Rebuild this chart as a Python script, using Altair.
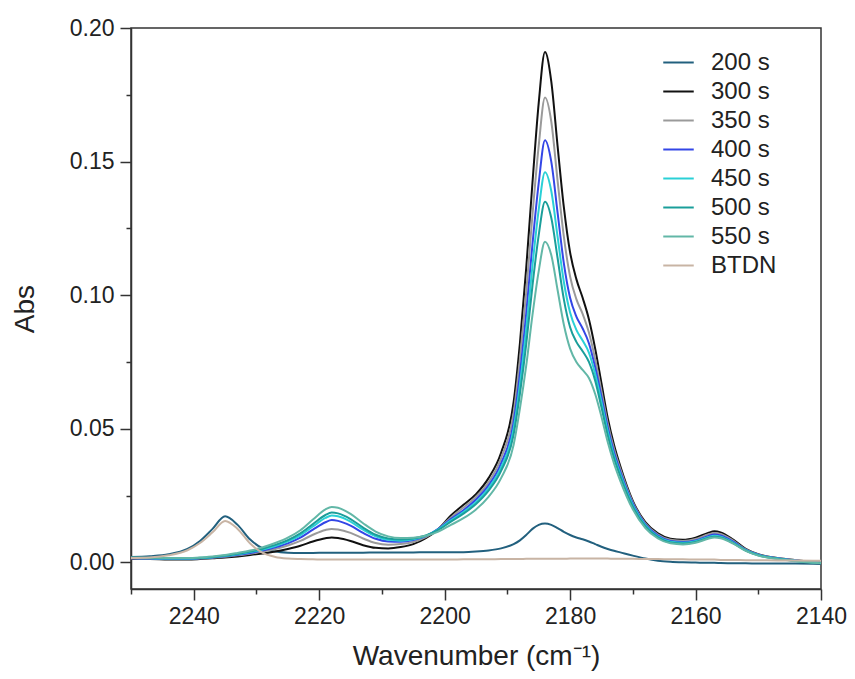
import altair as alt
import pandas as pd

wavenumber = [2250, 2247, 2244, 2241, 2239, 2237, 2235, 2233, 2231, 2229,
              2227, 2225, 2223, 2221, 2219, 2218, 2217, 2215, 2213, 2211,
              2209, 2207, 2205, 2203, 2201, 2199, 2197, 2195, 2193, 2191,
              2189, 2188, 2187, 2186, 2185, 2184, 2183, 2182, 2181, 2180,
              2179, 2178, 2177, 2176, 2175, 2174, 2173, 2172, 2170, 2168,
              2166, 2164, 2162, 2160, 2158, 2157, 2156, 2154, 2152, 2150,
              2147, 2144, 2140]

s200 = [0.0020, 0.0023, 0.0030, 0.0050, 0.0080, 0.0125, 0.0172, 0.0140, 0.0085, 0.0052,
        0.0040, 0.0036, 0.0035, 0.0035, 0.0036, 0.0036, 0.0036, 0.0036, 0.0036, 0.0037,
        0.0037, 0.0037, 0.0037, 0.0038, 0.0038, 0.0038, 0.0038, 0.0040, 0.0044, 0.0052,
        0.0068, 0.0082, 0.0102, 0.0125, 0.0140, 0.0145, 0.0140, 0.0128, 0.0114, 0.0102,
        0.0093, 0.0086, 0.0078, 0.0068, 0.0058, 0.0050, 0.0043, 0.0037, 0.0025, 0.0014,
        0.0006, 0.0002, 0.0000, -0.0001, -0.0002, -0.0002, -0.0003, -0.0004, -0.0004, -0.0005,
        -0.0005, -0.0005, -0.0006]

s300 = [0.0012, 0.0012, 0.0010, 0.0010, 0.0012, 0.0015, 0.0018, 0.0022, 0.0027, 0.0033,
        0.0040, 0.0050, 0.0062, 0.0078, 0.0090, 0.0093, 0.0091, 0.0080, 0.0064, 0.0054,
        0.0052, 0.0057, 0.0068, 0.0090, 0.0125, 0.0175, 0.0215, 0.0255, 0.0315, 0.0410,
        0.0600, 0.0820, 0.1100, 0.1420, 0.1720, 0.1910, 0.1800, 0.1560, 0.1330, 0.1160,
        0.1060, 0.0990, 0.0910, 0.0800, 0.0670, 0.0540, 0.0440, 0.0360, 0.0230, 0.0150,
        0.0108, 0.0088, 0.0084, 0.0092, 0.0110, 0.0116, 0.0112, 0.0085, 0.0050, 0.0030,
        0.0016, 0.0008, 0.0000]

s350 = [0.0014, 0.0013, 0.0012, 0.0012, 0.0014, 0.0017, 0.0021, 0.0026, 0.0032, 0.0040,
        0.0050, 0.0063, 0.0080, 0.0103, 0.0121, 0.0125, 0.0123, 0.0110, 0.0089, 0.0072,
        0.0066, 0.0068, 0.0076, 0.0094, 0.0125, 0.0168, 0.0205, 0.0245, 0.0300, 0.0390,
        0.0560, 0.0760, 0.1010, 0.1300, 0.1560, 0.1740, 0.1650, 0.1430, 0.1220, 0.1070,
        0.0985, 0.0930, 0.0860, 0.0760, 0.0640, 0.0520, 0.0425, 0.0350, 0.0225, 0.0146,
        0.0104, 0.0084, 0.0080, 0.0087, 0.0104, 0.0110, 0.0106, 0.0081, 0.0048, 0.0029,
        0.0016, 0.0008, 0.0000]

s400 = [0.0015, 0.0014, 0.0013, 0.0013, 0.0015, 0.0018, 0.0023, 0.0028, 0.0035, 0.0044,
        0.0056, 0.0071, 0.0092, 0.0122, 0.0150, 0.0158, 0.0155, 0.0137, 0.0110, 0.0088,
        0.0078, 0.0077, 0.0083, 0.0098, 0.0125, 0.0162, 0.0195, 0.0235, 0.0288, 0.0370,
        0.0525, 0.0705, 0.0930, 0.1190, 0.1420, 0.1580, 0.1500, 0.1310, 0.1120, 0.0990,
        0.0920, 0.0875, 0.0820, 0.0730, 0.0620, 0.0505, 0.0412, 0.0340, 0.0220, 0.0142,
        0.0100, 0.0080, 0.0076, 0.0082, 0.0098, 0.0104, 0.0100, 0.0077, 0.0046, 0.0028,
        0.0015, 0.0007, -0.0002]

s450 = [0.0016, 0.0015, 0.0014, 0.0014, 0.0016, 0.0019, 0.0024, 0.0030, 0.0038, 0.0048,
        0.0061, 0.0078, 0.0101, 0.0134, 0.0166, 0.0175, 0.0172, 0.0152, 0.0122, 0.0097,
        0.0084, 0.0081, 0.0086, 0.0099, 0.0123, 0.0157, 0.0188, 0.0226, 0.0278, 0.0355,
        0.0500, 0.0665, 0.0870, 0.1110, 0.1320, 0.1460, 0.1390, 0.1220, 0.1050, 0.0935,
        0.0870, 0.0830, 0.0785, 0.0705, 0.0600, 0.0490, 0.0400, 0.0330, 0.0214, 0.0138,
        0.0096, 0.0077, 0.0073, 0.0079, 0.0094, 0.0099, 0.0096, 0.0074, 0.0045, 0.0027,
        0.0014, 0.0006, -0.0003]

s500 = [0.0017, 0.0016, 0.0015, 0.0015, 0.0017, 0.0020, 0.0025, 0.0032, 0.0040, 0.0051,
        0.0065, 0.0083, 0.0108, 0.0143, 0.0177, 0.0186, 0.0183, 0.0162, 0.0130, 0.0103,
        0.0089, 0.0085, 0.0089, 0.0100, 0.0121, 0.0152, 0.0182, 0.0218, 0.0268, 0.0342,
        0.0478, 0.0630, 0.0815, 0.1035, 0.1225, 0.1350, 0.1290, 0.1140, 0.0985, 0.0880,
        0.0825, 0.0790, 0.0750, 0.0680, 0.0580, 0.0475, 0.0390, 0.0322, 0.0208, 0.0134,
        0.0093, 0.0074, 0.0070, 0.0076, 0.0091, 0.0096, 0.0093, 0.0072, 0.0044, 0.0026,
        0.0013, 0.0005, -0.0003]

s550 = [0.0018, 0.0017, 0.0016, 0.0016, 0.0018, 0.0022, 0.0027, 0.0035, 0.0044, 0.0056,
        0.0072, 0.0092, 0.0120, 0.0160, 0.0198, 0.0207, 0.0204, 0.0181, 0.0146, 0.0115,
        0.0097, 0.0091, 0.0092, 0.0099, 0.0115, 0.0140, 0.0165, 0.0198, 0.0245, 0.0315,
        0.0440, 0.0575, 0.0735, 0.0925, 0.1090, 0.1200, 0.1150, 0.1020, 0.0890, 0.0800,
        0.0750, 0.0720, 0.0690, 0.0630, 0.0545, 0.0450, 0.0370, 0.0305, 0.0198, 0.0128,
        0.0089, 0.0071, 0.0067, 0.0073, 0.0088, 0.0093, 0.0090, 0.0070, 0.0043, 0.0025,
        0.0012, 0.0004, -0.0004]

btdn = [0.0016, 0.0018, 0.0026, 0.0045, 0.0072, 0.0112, 0.0155, 0.0125, 0.0070, 0.0035,
        0.0020, 0.0014, 0.0012, 0.0011, 0.0010, 0.0010, 0.0010, 0.0010, 0.0010, 0.0010,
        0.0010, 0.0010, 0.0010, 0.0010, 0.0010, 0.0010, 0.0011, 0.0011, 0.0011, 0.0012,
        0.0012, 0.0012, 0.0013, 0.0013, 0.0013, 0.0013, 0.0013, 0.0013, 0.0013, 0.0014,
        0.0014, 0.0014, 0.0014, 0.0014, 0.0014, 0.0014, 0.0013, 0.0013, 0.0013, 0.0012,
        0.0012, 0.0011, 0.0011, 0.0010, 0.0010, 0.0010, 0.0009, 0.0009, 0.0008, 0.0008,
        0.0007, 0.0007, 0.0006]

series_names = ["200 s", "300 s", "350 s", "400 s", "450 s", "500 s", "550 s", "BTDN"]
series_colors = ["#22607e", "#111111", "#9a9a9a", "#3346e6", "#2ad0d6", "#1a9e9a", "#62b7a7", "#c8b4a4"]
all_series = [s200, s300, s350, s400, s450, s500, s550, btdn]

x_ticks = list(range(2250, 2139, -10))
y_ticks = [0.0, 0.025, 0.05, 0.075, 0.1, 0.125, 0.15, 0.175, 0.2]

rows = []
for name, vals in zip(series_names, all_series):
    for w, a in zip(wavenumber, vals):
        rows.append({"wavenumber": w, "abs": a, "series": name})
df = pd.DataFrame(rows)

FONT = "Liberation Sans"

chart = alt.Chart(df).mark_line(strokeWidth=2, interpolate="monotone").encode(
    x=alt.X("wavenumber:Q",
            scale=alt.Scale(domain=[2140, 2250], reverse=True, nice=False, zero=False),
            axis=alt.Axis(title="Wavenumber (cm⁻¹)", values=x_ticks, format="d",
                          labelExpr="datum.value % 20 === 0 ? datum.label : ''",
                          tickSize={"condition": {"test": "datum.value % 20 === 0", "value": 11}, "value": 5},
                          grid=False, labelPadding=5, titlePadding=14, labelFlush=False)),
    y=alt.Y("abs:Q",
            scale=alt.Scale(domain=[-0.01, 0.2], nice=False, zero=False),
            axis=alt.Axis(title="Abs", values=y_ticks, format=".2f",
                          labelExpr="round(datum.value * 1000) % 50 === 0 ? datum.label : ''",
                          tickSize={"condition": {"test": "round(datum.value * 1000) % 50 === 0", "value": 11}, "value": 5},
                          grid=False, labelPadding=6, titlePadding=30, labelFlush=False)),
    color=alt.Color("series:N",
                    scale=alt.Scale(domain=series_names, range=series_colors),
                    legend=alt.Legend(title=None, orient="none", legendX=531, legendY=18,
                                      symbolType="stroke", symbolSize=930,
                                      symbolStrokeWidth=2, labelFontSize=24, labelFont=FONT,
                                      labelColor="#222", rowPadding=-4, labelOffset=16, padding=0)),
    order=alt.Order("wavenumber:Q", sort="descending"),
).properties(
    width=690, height=561,
    autosize=alt.AutoSizeParams(type="none"),
    padding={"left": 123, "top": 20, "right": 26, "bottom": 82},
).configure_view(
    stroke="#333333", strokeWidth=1.5
).configure_axis(
    domainColor="#333333", domainWidth=1.5, tickColor="#333333", tickWidth=1.5,
    labelColor="#222222", labelFontSize=23, labelFont=FONT,
    titleColor="#222222", titleFontSize=28, titleFont=FONT, titleFontWeight="normal"
)

chart.save("out.html", embed_options={"renderer": "svg", "actions": False})
